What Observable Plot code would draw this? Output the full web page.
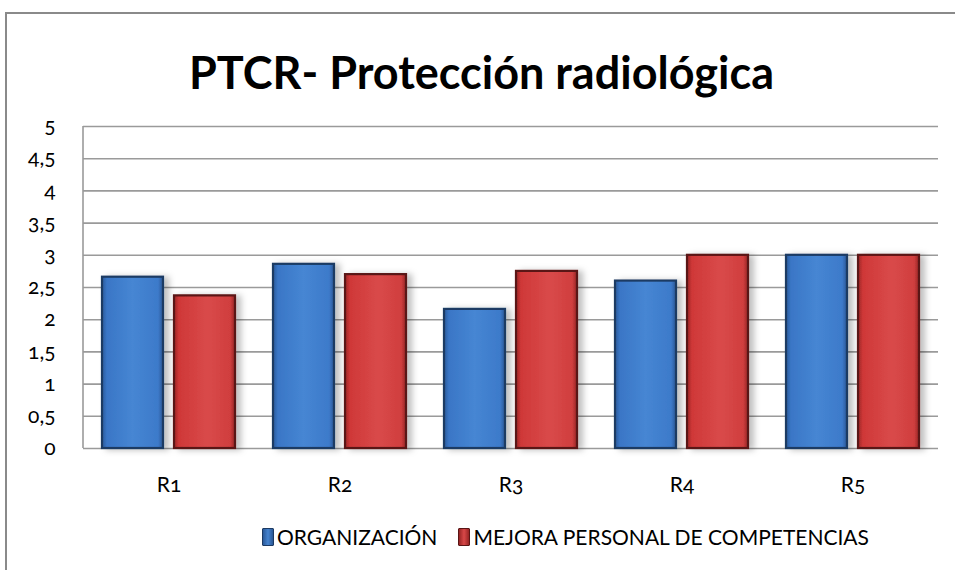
<!DOCTYPE html>
<html>
<head>
<meta charset="utf-8">
<script src="https://cdn.jsdelivr.net/npm/d3@7"></script>
<script src="https://cdn.jsdelivr.net/npm/@observablehq/plot@0.6"></script>
<style>
  html, body { margin: 0; padding: 0; background: #fff; }
  #wrap { position: relative; width: 955px; height: 570px; overflow: hidden; font-family: Lato, "Open Sans", sans-serif; }
  #frame { position: absolute; left: 5px; top: 12px; width: 960px; height: 600px; border-left: 2px solid #8a8a8a; border-top: 2px solid #8a8a8a; box-sizing: border-box; }
  #title { position: absolute; left: 0; width: 955px; top: 42px; text-align: center; font-weight: bold; font-size: 45px; color: #000; line-height: 60px; padding-left: 8px; box-sizing: border-box; }
  #chart { position: absolute; left: 0; top: 106px; }
  #legend { position: absolute; left: 262px; top: 524px; display: flex; align-items: center; font-size: 21px; color: #000; line-height: 26px; white-space: nowrap; }
  .item { display: flex; align-items: center; }
  .sw { width: 10px; height: 16px; margin-right: 3px; border-radius: 1px; }
  #chart text { font-variant-numeric: oldstyle-nums; }
</style>
</head>
<body>
<div id="wrap">
  <div id="frame"></div>
  <div id="title"></div>
  <div id="chart"></div>
  <div id="legend"></div>
</div>
<script>
const titleText = "PTCR- Protección radiológica";
const categories = ["R1", "R2", "R3", "R4", "R5"];
const seriesNames = ["ORGANIZACIÓN", "MEJORA PERSONAL DE COMPETENCIAS"];
const organizacion = [2.66, 2.86, 2.16, 2.6, 3];
const mejora = [2.37, 2.7, 2.75, 3, 3];
const yTicks = [0, 0.5, 1, 1.5, 2, 2.5, 3, 3.5, 4, 4.5, 5];

const seriesColors = {
  [seriesNames[0]]: { grad: "gBlue", stroke: "#1c3a63" },
  [seriesNames[1]]: { grad: "gRed", stroke: "#5a1515" }
};

const data = [];
categories.forEach((c, i) => {
  data.push({ cat: c, series: seriesNames[0], value: organizacion[i] });
  data.push({ cat: c, series: seriesNames[1], value: mejora[i] });
});

document.getElementById("title").textContent = titleText;

const fmt = d => String(d).replace(".", ",");

const plot = Plot.plot({
  width: 955,
  height: 392,
  marginLeft: 83,
  marginRight: 17,
  marginTop: 20,
  marginBottom: 50,
  style: { fontFamily: "Lato, 'Open Sans', sans-serif", fontSize: "21px", color: "#000", background: "transparent" },
  fx: { domain: categories, padding: 0, label: null, tickSize: 0, tickPadding: 29, axis: "bottom" },
  x: { domain: seriesNames, paddingInner: 0.15, paddingOuter: 0.26, axis: null },
  y: { domain: [0, 5], ticks: yTicks, tickFormat: fmt, label: null, tickSize: 0, tickPadding: 28 },
  marks: [
    Plot.ruleY(yTicks, { stroke: "#9a9a9a", strokeWidth: 1.6 }),
    Plot.barY(data, {
      fx: "cat",
      x: "series",
      y: "value",
      fill: d => "url(#" + seriesColors[d.series].grad + ")",
      stroke: d => seriesColors[d.series].stroke,
      strokeWidth: 2.2
    })
  ],
  color: { type: "identity" }
});

// gradients & shadow
const svg = d3.select(plot);
const defs = svg.insert("defs", ":first-child");
function grad(id, stops) {
  const g = defs.append("linearGradient").attr("id", id).attr("x1", "0").attr("x2", "1").attr("y1", "0").attr("y2", "0");
  stops.forEach(([o, c]) => g.append("stop").attr("offset", o).attr("stop-color", c));
}
grad("gBlue", [[0, "#2b5a9a"], [0.08, "#3a76c6"], [0.5, "#4686d3"], [0.92, "#3d7aca"], [1, "#2a5794"]]);
grad("gRed", [[0, "#9a2626"], [0.08, "#cf3838"], [0.55, "#d94a4a"], [0.92, "#d03e3e"], [1, "#962424"]]);
const f = defs.append("filter").attr("id", "shadow").attr("x", "-10%").attr("y", "-5%").attr("width", "140%").attr("height", "110%");
f.append("feDropShadow").attr("dx", 5).attr("dy", 1).attr("stdDeviation", 3).attr("flood-color", "#000").attr("flood-opacity", 0.25);
svg.selectAll("g[aria-label='bar']").attr("filter", "url(#shadow)");

// left frame line
const ys = plot.scale("y");
const xLeft = 83;
svg.append("line")
  .attr("x1", xLeft).attr("x2", xLeft)
  .attr("y1", ys.apply(5)).attr("y2", ys.apply(0))
  .attr("stroke", "#9a9a9a").attr("stroke-width", 1.6);

document.getElementById("chart").appendChild(plot);

// legend
const legend = d3.select("#legend");
seriesNames.forEach((s, i) => {
  const it = legend.append("div").attr("class", "item").style("margin-left", i ? "21px" : "0");
  const c = seriesColors[s];
  it.append("div").attr("class", "sw")
    .style("background", c.grad === "gBlue" ? "linear-gradient(90deg,#2b5a9a,#4684d0,#2a5794)" : "linear-gradient(90deg,#962424,#d84848,#962424)")
    .style("border", "1px solid " + c.stroke);
  it.append("span").text(s);
});
</script>
</body>
</html>
